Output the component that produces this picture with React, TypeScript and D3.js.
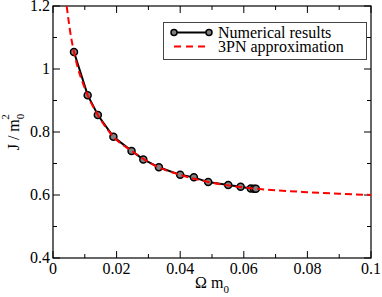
import * as d3 from 'd3';

// numerical results (Omega m0, J / m0^2)
const numOmega = [0.0066, 0.0109, 0.0141, 0.019, 0.0247, 0.0284, 0.0333, 0.04, 0.0443, 0.0488, 0.0551, 0.059, 0.0622, 0.0632, 0.0638];
const numJ = [1.054, 0.917, 0.854, 0.785, 0.74, 0.713, 0.688, 0.664, 0.656, 0.641, 0.632, 0.626, 0.621, 0.62, 0.62];

// 3PN approximation
const pnOmega = [0.0043, 0.0057, 0.0066, 0.0109, 0.0141, 0.019, 0.025, 0.033, 0.04, 0.05, 0.06, 0.07, 0.08, 0.09, 0.1];
const pnJ = [1.2, 1.1, 1.054, 0.917, 0.854, 0.785, 0.738, 0.689, 0.664, 0.639, 0.624, 0.615, 0.609, 0.604, 0.6];

const xTicks = [0, 0.02, 0.04, 0.06, 0.08, 0.1];
const xTickLabels = ['0', '0.02', '0.04', '0.06', '0.08', '0.1'];
const xMinor = [0.01, 0.03, 0.05, 0.07, 0.09];
const yTicks = [0.4, 0.6, 0.8, 1.0, 1.2];
const yTickLabels = ['0.4', '0.6', '0.8', '1', '1.2'];
const yMinor = [0.5, 0.7, 0.9, 1.1];

const legendLabels = ['Numerical results', '3PN approximation'];

const W = 382;
const H = 297;
const m = { left: 53, right: 371, top: 6, bottom: 258 };
const FONT = '"Liberation Serif", "Times New Roman", serif';

export default function App() {
  const x = d3.scaleLinear().domain([0, 0.1]).range([m.left, m.right]);
  const y = d3.scaleLinear().domain([0.4, 1.2]).range([m.bottom, m.top]);

  const numPts: [number, number][] = numOmega.map((o, i) => [o, numJ[i]]);
  const pnPts: [number, number][] = pnOmega.map((o, i) => [o, pnJ[i]]);

  const numLine = d3.line<[number, number]>().x(d => x(d[0])).y(d => y(d[1]));
  const pnLine = d3.line<[number, number]>().x(d => x(d[0])).y(d => y(d[1])).curve(d3.curveMonotoneX);

  const major = 7;
  const minor = 4;

  return (
    <svg width={W} height={H} style={{ position: 'absolute', left: 0, top: 0, background: '#fff' }} fontFamily={FONT}>
      <defs>
        <clipPath id="plot">
          <rect x={m.left} y={m.top} width={m.right - m.left} height={m.bottom - m.top} />
        </clipPath>
      </defs>

      {/* ticks, inward on all four sides */}
      <g stroke="#000" strokeWidth={1}>
        {xTicks.map(t => (
          <g key={'xt' + t}>
            <line x1={x(t)} x2={x(t)} y1={m.bottom} y2={m.bottom - major} />
            <line x1={x(t)} x2={x(t)} y1={m.top} y2={m.top + major} />
          </g>
        ))}
        {xMinor.map(t => (
          <g key={'xm' + t}>
            <line x1={x(t)} x2={x(t)} y1={m.bottom} y2={m.bottom - minor} />
            <line x1={x(t)} x2={x(t)} y1={m.top} y2={m.top + minor} />
          </g>
        ))}
        {yTicks.map(t => (
          <g key={'yt' + t}>
            <line x1={m.left} x2={m.left + major} y1={y(t)} y2={y(t)} />
            <line x1={m.right} x2={m.right - major} y1={y(t)} y2={y(t)} />
          </g>
        ))}
        {yMinor.map(t => (
          <g key={'ym' + t}>
            <line x1={m.left} x2={m.left + minor} y1={y(t)} y2={y(t)} />
            <line x1={m.right} x2={m.right - minor} y1={y(t)} y2={y(t)} />
          </g>
        ))}
      </g>

      <rect x={m.left} y={m.top} width={m.right - m.left} height={m.bottom - m.top} fill="none" stroke="#000" strokeWidth={1.2} />

      {/* tick labels */}
      <g fontSize={16} fill="#000">
        {xTicks.map((t, i) => (
          <text key={'xl' + t} x={x(t)} y={274} textAnchor="middle">{xTickLabels[i]}</text>
        ))}
        {yTicks.map((t, i) => (
          <text key={'yl' + t} x={50} y={y(t) + 5} textAnchor="end">{yTickLabels[i]}</text>
        ))}
      </g>

      {/* axis titles */}
      <text x={212} y={288} textAnchor="middle" fontSize={16}>
        Ω m<tspan fontSize={11} dy={5}>0</tspan>
      </text>
      <g transform="translate(19,132) rotate(-90)">
        <text x={0} y={0} textAnchor="middle" fontSize={16}>
          J / m<tspan fontSize={11} dy={5}>0</tspan>
          <tspan fontSize={11} dx={-6} dy={-15}>2</tspan>
        </text>
      </g>

      {/* data */}
      <g clipPath="url(#plot)">
        <path d={numLine(numPts) ?? ''} fill="none" stroke="#000" strokeWidth={2} />
        {numPts.map((p, i) => (
          <circle key={i} cx={x(p[0])} cy={y(p[1])} r={3.5} fill="#808080" stroke="#000" strokeWidth={1.5} />
        ))}
        <path d={pnLine(pnPts) ?? ''} fill="none" stroke="#ff0000" strokeWidth={2} strokeDasharray="7,4" />
      </g>

      {/* legend */}
      <rect x={163.5} y={22.5} width={203} height={37} fill="#fff" stroke="#444" strokeWidth={1} />
      <line x1={174} x2={209} y1={32.5} y2={32.5} stroke="#000" strokeWidth={2} />
      <circle cx={174} cy={32.5} r={3} fill="#808080" stroke="#000" strokeWidth={1.5} />
      <circle cx={209} cy={32.5} r={3} fill="#808080" stroke="#000" strokeWidth={1.5} />
      <line x1={174} x2={209} y1={46.5} y2={46.5} stroke="#ff0000" strokeWidth={2} strokeDasharray="7,5" />
      <text x={218} y={38} fontSize={16}>{legendLabels[0]}</text>
      <text x={218} y={52} fontSize={16}>{legendLabels[1]}</text>
    </svg>
  );
}
